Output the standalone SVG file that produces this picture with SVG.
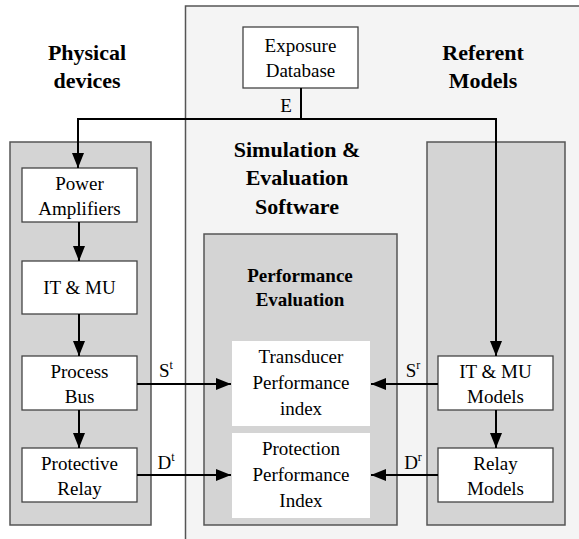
<svg xmlns="http://www.w3.org/2000/svg" width="579" height="539" viewBox="0 0 579 539">
<style>
text{font-family:"Liberation Serif","Times New Roman",serif;fill:#000;text-anchor:middle}
.t{font-size:19px}
.h{font-size:22px;font-weight:bold}
.h2{font-size:19px;font-weight:bold}
.sup{font-size:12px}
.panel{fill:#d4d4d4;stroke:#555;stroke-width:1.5}
.box{fill:#fff;stroke:#444;stroke-width:1.3}
.wbox{fill:#fff;stroke:none}
.c{stroke:#000;stroke-width:2;fill:none}
</style>
<defs>
<marker id="ah" markerWidth="15" markerHeight="12" refX="15" refY="6" orient="auto" markerUnits="userSpaceOnUse">
<path d="M0,0 L15,6 L0,12 Z" fill="#000"/>
</marker>
</defs>
<rect width="579" height="539" fill="#fff"/>
<g id="software">
<rect x="185.5" y="6" width="400" height="540" fill="#f4f4f4" stroke="#555" stroke-width="1.5"/>
<text class="h" x="297" y="157">Simulation &amp;</text>
<text class="h" x="297" y="185">Evaluation</text>
<text class="h" x="297" y="214">Software</text>
</g>
<g id="physical-title">
<text class="h" x="87" y="60">Physical</text>
<text class="h" x="87" y="88">devices</text>
</g>
<g id="referent-title">
<text class="h" x="483" y="60">Referent</text>
<text class="h" x="483" y="88">Models</text>
</g>
<g id="physical-panel"><rect class="panel" x="10" y="142" width="141" height="383"/></g>
<g id="perf-panel"><rect class="panel" x="204" y="234" width="193" height="291"/>
<text class="h2" x="300" y="282">Performance</text>
<text class="h2" x="300" y="306">Evaluation</text>
</g>
<g id="referent-panel"><rect class="panel" x="427" y="142" width="138" height="383"/></g>
<g id="exposure"><rect class="box" x="243" y="27" width="115" height="61"/>
<text class="t" x="300.5" y="52">Exposure</text>
<text class="t" x="300.5" y="77">Database</text>
</g>
<g id="power-amp"><rect class="box" x="22" y="168" width="115" height="54"/>
<text class="t" x="79.5" y="190">Power</text>
<text class="t" x="79.5" y="215">Amplifiers</text>
</g>
<g id="it-mu"><rect class="box" x="22" y="261" width="115" height="53"/>
<text class="t" x="79.5" y="294">IT &amp; MU</text>
</g>
<g id="process-bus"><rect class="box" x="22" y="356" width="115" height="54"/>
<text class="t" x="79.5" y="378">Process</text>
<text class="t" x="79.5" y="403">Bus</text>
</g>
<g id="protective-relay"><rect class="box" x="22" y="448" width="115" height="54"/>
<text class="t" x="79.5" y="470">Protective</text>
<text class="t" x="79.5" y="495">Relay</text>
</g>
<g id="transducer-index"><rect class="wbox" x="232" y="341" width="138" height="85"/>
<text class="t" x="301" y="363">Transducer</text>
<text class="t" x="301" y="389">Performance</text>
<text class="t" x="301" y="415">index</text>
</g>
<g id="protection-index"><rect class="wbox" x="232" y="433" width="138" height="85"/>
<text class="t" x="301" y="455">Protection</text>
<text class="t" x="301" y="481">Performance</text>
<text class="t" x="301" y="507">Index</text>
</g>
<g id="itmu-models"><rect class="box" x="438" y="356" width="115" height="54"/>
<text class="t" x="495.5" y="378">IT &amp; MU</text>
<text class="t" x="495.5" y="403">Models</text>
</g>
<g id="relay-models"><rect class="box" x="438" y="448" width="115" height="54"/>
<text class="t" x="495.5" y="470">Relay</text>
<text class="t" x="495.5" y="495">Models</text>
</g>
<g id="connectors">
<path class="c" d="M301,88 V119 M78,119 H496"/>
<path class="c" d="M78,118 V168" marker-end="url(#ah)"/>
<path class="c" d="M496,118 V356" marker-end="url(#ah)"/>
<path class="c" d="M79,222 V261" marker-end="url(#ah)"/>
<path class="c" d="M79,314 V356" marker-end="url(#ah)"/>
<path class="c" d="M79,410 V448" marker-end="url(#ah)"/>
<path class="c" d="M496,410 V448" marker-end="url(#ah)"/>
<path class="c" d="M137,384 H231" marker-end="url(#ah)"/>
<path class="c" d="M137,475 H231" marker-end="url(#ah)"/>
<path class="c" d="M438,384 H371" marker-end="url(#ah)"/>
<path class="c" d="M438,475 H371" marker-end="url(#ah)"/>
<text class="t" x="286" y="112">E</text>
<text class="t" x="166" y="377">S<tspan class="sup" dy="-8">t</tspan></text>
<text class="t" x="166" y="469">D<tspan class="sup" dy="-8">t</tspan></text>
<text class="t" x="413" y="377">S<tspan class="sup" dy="-8">r</tspan></text>
<text class="t" x="413" y="469">D<tspan class="sup" dy="-8">r</tspan></text>
</g>
</svg>
